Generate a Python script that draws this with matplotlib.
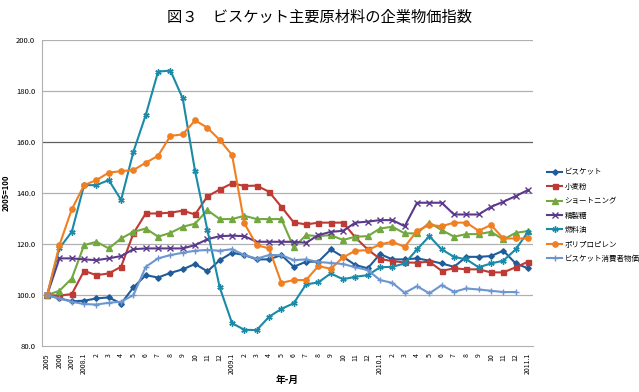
import matplotlib.pyplot as plt

plt.rcParams['font.family'] = ['Noto Sans CJK JP', 'DejaVu Sans']

# x categories (year / month)
labels = (["2005", "2006", "2007", "2008.1"] + [str(m) for m in range(2, 13)]
          + ["2009.1"] + [str(m) for m in range(2, 13)]
          + ["2010.1"] + [str(m) for m in range(2, 13)]
          + ["2011.1"])

biscuit = [100, 98.7, 97.6, 97.8, 98.7, 99.1, 96.7, 103, 107.8, 106.9,
           108.7, 110.1, 112.2, 109.3, 113.7, 116.6, 115.7, 114, 114, 115.7,
           111.1, 113.1, 113.1, 117.9, 115, 111.8, 110.5, 116.1, 114, 114,
           114.4, 113.5, 112.4, 111.1, 115, 115, 115.3, 117.4, 112.4, 110.5]
wheat = [100, 99.8, 100.4, 109.5, 107.8, 108.5, 111.1, 124.2, 132, 132,
         132.3, 133.1, 131.6, 138.7, 141.4, 143.8, 142.8, 142.9, 140.5, 134.6,
         128.5, 127.7, 128.4, 128.4, 128.4, 122.6, 117.9, 114.2, 113.3, 112.8,
         112.7, 113.1, 109.5, 110.5, 110.1, 110.1, 108.9, 108.9, 110.9, 113.1]
shortening = [100, 101.7, 106.5, 119.6, 120.9, 118.3, 122.2, 124.8, 126.1, 122.9,
              124.4, 126.8, 128, 133.3, 129.8, 129.8, 131.1, 129.8, 129.8, 129.8,
              118.7, 123.5, 123.1, 123.5, 121.6, 122.9, 123.1, 126.1, 126.8, 124.2,
              124.2, 128.4, 125.5, 122.9, 123.9, 123.9, 124.8, 121.8, 124.4, 125.1]
sugar = [100, 114.4, 114.4, 114, 113.7, 114.4, 115.3, 118, 118.3, 118.3,
         118.3, 118.3, 119.6, 121.9, 123.1, 123.3, 123.1, 120.9, 120.9, 120.9,
         120.9, 120.5, 123.5, 124.8, 125.2, 128.4, 128.8, 129.4, 129.4, 127,
         136.2, 136.2, 136.2, 131.6, 131.6, 131.6, 134.6, 136.6, 138.8, 141.2]
fuel = [100, 118.4, 124.8, 143.1, 143.1, 145.1, 137.3, 156.2, 170.6, 187.6,
        188, 177.1, 148.6, 125.5, 103, 89, 86.4, 86.3, 91.5, 94.6,
        96.8, 104.2, 105, 108.5, 106.2, 107.2, 107.8, 110.9, 111.1, 112.4,
        117.9, 123.1, 117.9, 115, 114, 110.9, 112.4, 113.5, 117.9, 124.8]
polypro = [100, 119.6, 133.6, 143.1, 145.1, 148, 148.6, 149, 151.9, 154.6,
           162.4, 163, 168.5, 165.6, 160.8, 154.9, 128.1, 119.6, 118.3, 104.8,
           105.9, 105.9, 111.4, 110.3, 114.8, 117.4, 117.6, 119.9, 120.9, 118.9,
           125.2, 127.5, 127, 128.4, 128.4, 125.2, 127.5, 122.2, 122.2, 122.2]
cpi = [100, 98.7, 97.4, 96.5, 96.3, 97, 97.4, 100, 111.1, 114.4,
       115.7, 116.6, 117.4, 117.7, 117.4, 118, 115.7, 114.3, 115.7, 115.7,
       113.7, 114, 113, 112.6, 112.2, 110.9, 109.8, 105.9, 104.8, 100.9,
       103.5, 100.7, 103.9, 101.3, 102.6, 102.2, 101.7, 101.2, 101.2]

series = [
    ("ビスケット", biscuit, "#1f5c99", "D", 2.8),
    ("小麦粉", wheat, "#be3a34", "s", 3.6),
    ("ショートニング", shortening, "#72a83f", "^", 3.8),
    ("精製糖", sugar, "#5b3a8c", "x", 4),
    ("燃料油", fuel, "#1a8aa8", (6, 2, 0), 4.5),
    ("ポリプロピレン", polypro, "#f07f22", "o", 3.8),
    ("ビスケット消費者物価", cpi, "#6d96d0", "+", 4.5),
]

fig = plt.figure(figsize=(6.39, 3.92), dpi=100)
ax = fig.add_axes([0.066, 0.117, 0.768, 0.781])

for yv in [100, 120, 140, 180, 200]:
    ax.axhline(yv, color="#b0b0b0", lw=0.9, zorder=0)
ax.axhline(160, color="#606060", lw=0.9, zorder=0)

for name, vals, col, mk, ms in series:
    ax.plot(range(len(vals)), vals, color=col, lw=1.5, marker=mk, ms=ms,
            mec=col, mew=1.0, label=name)

ax.set_xlim(-0.4, len(labels) - 0.6)
ax.set_ylim(80, 200)
ax.set_yticks(range(80, 201, 20))
ax.set_yticklabels(["%.1f" % v for v in range(80, 201, 20)], fontsize=5.5)
ax.set_xticks(range(len(labels)))
ax.set_xticklabels(labels, rotation=90, fontsize=5)
ax.tick_params(length=0, pad=5)

for s in ["top", "right"]:
    ax.spines[s].set_visible(False)
ax.spines["left"].set_color("#b0b0b0")
ax.spines["bottom"].set_color("#b0b0b0")

ax.set_ylabel("2005=100", fontsize=5.5, fontweight="bold", labelpad=4)
ax.set_xlabel("年-月", fontsize=7, fontweight="bold", labelpad=0)

fig.text(0.5, 0.955, "図３　ビスケット主要原材料の企業物価指数",
         ha="center", va="center", fontsize=11)

fig.legend(loc="upper left", bbox_to_anchor=(0.852, 0.578), frameon=False,
           fontsize=5.4, handlelength=2.0, handletextpad=0.3, labelspacing=0.85,
           borderaxespad=0)

fig.savefig("out.png", dpi=100)
